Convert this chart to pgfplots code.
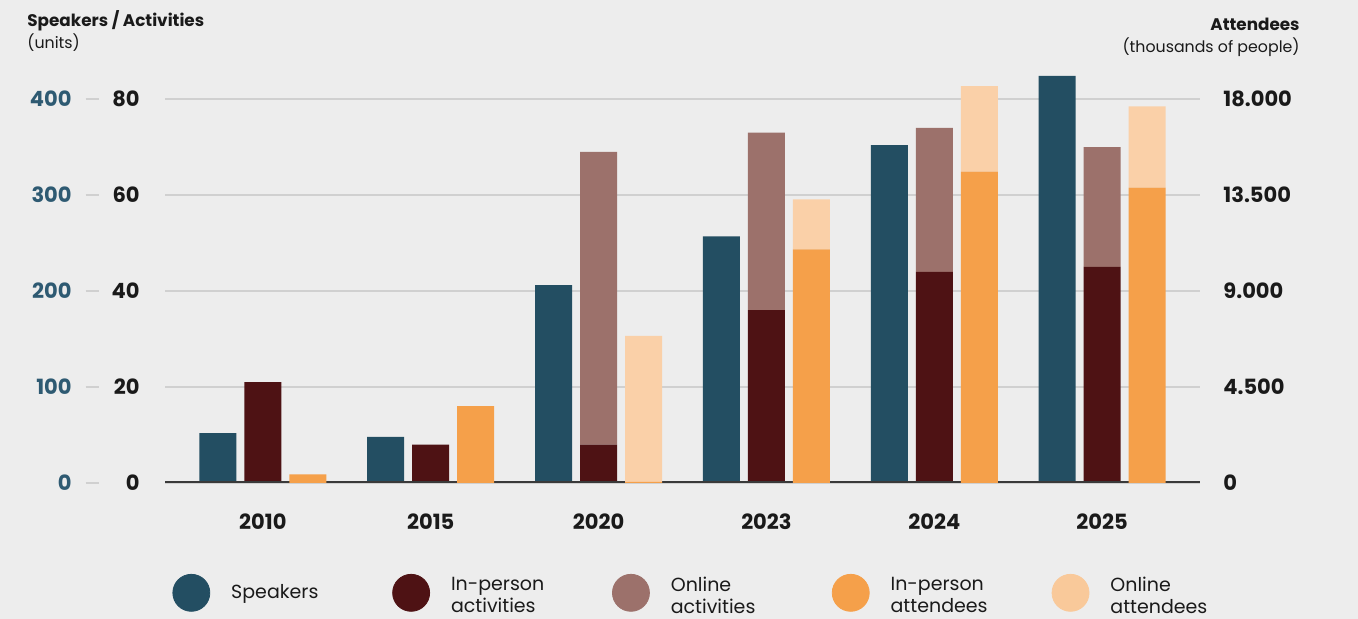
\documentclass[border=0pt]{standalone}
\usepackage{pgfplots}
\pgfplotsset{compat=1.18}
\usepackage{fontspec}
\setmainfont{Poppins}

\definecolor{bg}{HTML}{EDEDED}
\definecolor{spk}{HTML}{234E62}
\definecolor{spklab}{HTML}{2E5A72}
\definecolor{inact}{HTML}{4E1214}
\definecolor{onact}{HTML}{9C716B}
\definecolor{inatt}{HTML}{F5A04A}
\definecolor{onatt}{HTML}{FAD0A8}
\definecolor{gridc}{HTML}{D0D0D0}
\definecolor{zeroc}{HTML}{3A3A3A}
\definecolor{txt}{HTML}{1A1A1A}

\pgfplotsset{
  base/.style={
    scale only axis, width=517.5pt, height=211.2pt,
    at={(82.5pt,68pt)}, anchor=south west,
    xmin=-0.583, xmax=5.583, ymin=0,
    axis line style={draw=none}, tick style={draw=none},
    bar width=18.5pt, scaled y ticks=false,
    tick label style={font=\bfseries\fontsize{10.5}{12}\selectfont, text=txt},
    /pgf/number format/.cd, 1000 sep={.}, assume math mode=true,
  },
  legend circle/.style={legend image code/.code={\fill[#1] (9.25pt,0pt) circle (9.25pt);}},
}
\newcommand{\twoline}[2]{\raisebox{3pt}{\parbox{70pt}{#1\\#2}}}

\begin{document}
\begin{tikzpicture}
\path[fill=bg, use as bounding box] (0,0) rectangle (679pt,309.5pt);

\node[anchor=base west, inner sep=0pt, text=txt, font=\bfseries\fontsize{8.4}{10}\selectfont] at (13.5pt,296pt) {Speakers / Activities};
\node[anchor=base west, inner sep=0pt, text=txt, font=\fontsize{7.9}{10}\selectfont] at (13.5pt,285pt) {(units)};
\node[anchor=base east, inner sep=0pt, text=txt, font=\bfseries\fontsize{8.4}{10}\selectfont] at (650pt,294pt) {Attendees};
\node[anchor=base east, inner sep=0pt, text=txt, font=\fontsize{7.9}{10}\selectfont] at (650pt,283pt) {(thousands of people)};

% activities (middle bar of each year)
\begin{axis}[base, ymax=88, ybar stacked,
  ytick={0,20,40,60,80}, ymajorgrids, grid style={draw=gridc, line width=1pt},
  yticklabel style={anchor=east, inner sep=0pt, xshift=-12.5pt},
  xtick={0,...,5}, xticklabels={2010,2015,2020,2023,2024,2025},
  xticklabel style={anchor=north, inner sep=0pt, yshift=-15pt}]
\addplot[fill=inact, draw=none, bar shift=0pt] coordinates {(0,21) (1,8) (2,8) (3,36) (4,44) (5,45)};
\addplot[fill=onact, draw=none, bar shift=0pt] coordinates {(0,0) (1,0) (2,61) (3,37) (4,30) (5,25)};
\end{axis}

% speakers (left bar)
\begin{axis}[base, ymax=440, ybar,
  ytick={0,100,200,300,400}, xtick=\empty,
  yticklabel style={anchor=east, inner sep=0pt, xshift=-33pt},
  yticklabel={\textcolor{spklab}{\pgfmathprintnumber{\tick}}\hspace{7pt}\textcolor{gridc}{\rule[0.33em]{6.5pt}{1pt}}}]
\addplot[fill=spk, draw=none, bar shift=-22.5pt] coordinates {(0,52) (1,48) (2,206) (3,257) (4,352) (5,424)};
\end{axis}

% attendees (right bar)
\begin{axis}[base, ymax=19800, ybar stacked,
  ytick={0,4500,9000,13500,18000}, xtick=\empty, yticklabel pos=right,
  yticklabel style={anchor=west, inner sep=0pt, xshift=11.5pt},
  legend columns=5,
  legend style={draw=none, fill=none, inner sep=0pt, at={(0.0068,-0.26)}, anchor=west,
    nodes={inner sep=0pt, text=txt}, font=\fontsize{9.5}{11}\selectfont,
    /tikz/every odd column/.append style={column sep=10.5pt},
    /tikz/every even column/.append style={column sep=10.5pt}}]
\addplot[fill=inatt, draw=none, bar shift=22.5pt, forget plot] coordinates {(0,400) (1,3600) (2,50) (3,10950) (4,14600) (5,13850)};
\addplot[fill=onatt, draw=none, bar shift=22.5pt, forget plot] coordinates {(0,0) (1,0) (2,6850) (3,2350) (4,4000) (5,3800)};
\draw[zeroc, line width=1.5pt] (axis cs:-0.583,0) -- (axis cs:5.583,0);
\addlegendimage{legend circle=spk}
\addlegendentry{\parbox{70pt}{Speakers}}
\addlegendimage{legend circle=inact}
\addlegendentry{\twoline{In-person}{activities}}
\addlegendimage{legend circle=onact}
\addlegendentry{\twoline{Online}{activities}}
\addlegendimage{legend circle=inatt}
\addlegendentry{\twoline{In-person}{attendees}}
\addlegendimage{legend circle=onatt!85!inatt}
\addlegendentry{\twoline{Online}{attendees}}
\end{axis}
\end{tikzpicture}
\end{document}
